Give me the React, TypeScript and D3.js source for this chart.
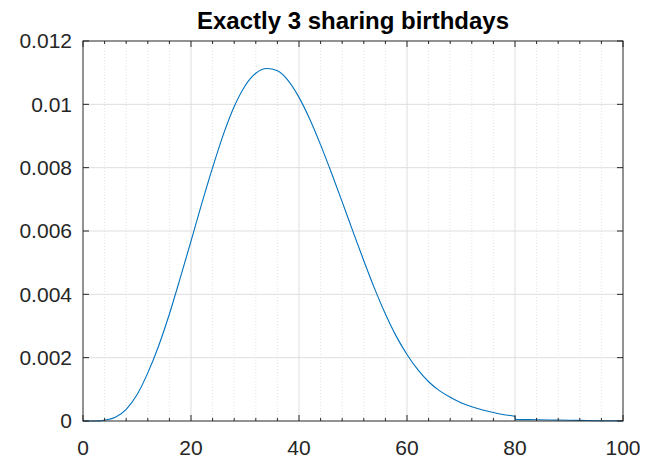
import { useEffect, useRef } from 'react';
import * as d3 from 'd3';

// group size n and probability that exactly 3 people share a birthday
const groupSize = [0, 2, 3, 4, 6, 8, 10, 12, 14, 16, 18, 20, 22, 24, 26, 28, 30, 32, 34, 36, 38, 40, 42, 44, 46, 48, 50, 52, 54, 56, 58, 60, 62, 64, 66, 68, 70, 72, 74, 76, 78, 80, 80.1, 84, 88, 92, 96, 100];
const probability = [0, 0, 0.000003, 0.00003, 0.00012, 0.00037, 0.00083, 0.00152, 0.00237, 0.00338, 0.00451, 0.00568, 0.00687, 0.008, 0.00905, 0.00993, 0.01058, 0.01098, 0.01113, 0.01106, 0.01075, 0.01022, 0.00953, 0.00872, 0.00784, 0.00692, 0.00598, 0.00506, 0.00418, 0.00338, 0.00268, 0.0021, 0.00162, 0.00124, 0.00096, 0.00075, 0.00058, 0.00045, 0.00035, 0.00027, 0.0002, 0.00014, 0.00005, 0.00004, 0.00003, 0.00002, 0.00001, 0.00001];

const xTicks = [0, 20, 40, 60, 80, 100];
const yTicks = [0, 0.002, 0.004, 0.006, 0.008, 0.01, 0.012];
const title = 'Exactly 3 sharing birthdays';

export default function App() {
  const svgRef = useRef<SVGSVGElement>(null);

  useEffect(() => {
    if (!svgRef.current) return;
    const svg = d3.select(svgRef.current);
    svg.selectAll('*').remove();

    const width = 658;
    const height = 459;
    const margin = { left: 83, right: 35, top: 41, bottom: 38 };
    const axisColor = '#262626';
    const font = '"Liberation Sans", Arial, Helvetica, sans-serif';

    const x = d3.scaleLinear().domain([0, 100]).range([margin.left, width - margin.right]);
    const y = d3.scaleLinear().domain([0, 0.012]).range([height - margin.bottom, margin.top]);

    svg.append('rect')
      .attr('width', width)
      .attr('height', height)
      .attr('fill', '#ffffff');

    const x0 = x(0), x1 = x(100), y0 = y(0), y1 = y(0.012);

    // minor grid (x only, dotted)
    const minorX = d3.range(4, 100, 4).filter(v => v % 20 !== 0);
    svg.append('g')
      .selectAll('line')
      .data(minorX)
      .join('line')
      .attr('x1', d => x(d))
      .attr('x2', d => x(d))
      .attr('y1', y0)
      .attr('y2', y1)
      .attr('stroke', '#e3e3e3')
      .attr('stroke-width', 1)
      .attr('stroke-dasharray', '1,2');

    // major grid
    const grid = svg.append('g').attr('stroke', '#dedede').attr('stroke-width', 1);
    grid.selectAll('line.gx')
      .data(xTicks.slice(1, -1))
      .join('line')
      .attr('class', 'gx')
      .attr('x1', d => x(d))
      .attr('x2', d => x(d))
      .attr('y1', y0)
      .attr('y2', y1);
    grid.selectAll('line.gy')
      .data(yTicks.slice(1, -1))
      .join('line')
      .attr('class', 'gy')
      .attr('x1', x0)
      .attr('x2', x1)
      .attr('y1', d => y(d))
      .attr('y2', d => y(d));

    // curve
    const pts = groupSize.map((n, i) => [n, probability[i]] as [number, number]);
    const line = d3.line<[number, number]>()
      .x(d => x(d[0]))
      .y(d => y(d[1]))
      .curve(d3.curveMonotoneX);

    svg.append('path')
      .datum(pts)
      .attr('d', line)
      .attr('fill', 'none')
      .attr('stroke', '#0072BD')
      .attr('stroke-width', 1.1);

    // box
    svg.append('rect')
      .attr('x', x0)
      .attr('y', y1)
      .attr('width', x1 - x0)
      .attr('height', y0 - y1)
      .attr('fill', 'none')
      .attr('stroke', axisColor)
      .attr('stroke-width', 1);

    // ticks (inside, both sides)
    const ticks = svg.append('g').attr('stroke', axisColor).attr('stroke-width', 1);
    xTicks.forEach(t => {
      ticks.append('line').attr('x1', x(t)).attr('x2', x(t)).attr('y1', y0).attr('y2', y0 - 6);
      ticks.append('line').attr('x1', x(t)).attr('x2', x(t)).attr('y1', y1).attr('y2', y1 + 6);
    });
    minorX.forEach(t => {
      ticks.append('line').attr('x1', x(t)).attr('x2', x(t)).attr('y1', y0).attr('y2', y0 - 3);
      ticks.append('line').attr('x1', x(t)).attr('x2', x(t)).attr('y1', y1).attr('y2', y1 + 3);
    });
    yTicks.forEach(t => {
      ticks.append('line').attr('x1', x0).attr('x2', x0 + 6).attr('y1', y(t)).attr('y2', y(t));
      ticks.append('line').attr('x1', x1).attr('x2', x1 - 6).attr('y1', y(t)).attr('y2', y(t));
    });

    // tick labels
    svg.append('g')
      .selectAll('text')
      .data(xTicks)
      .join('text')
      .attr('x', d => x(d))
      .attr('y', y0 + 34)
      .attr('text-anchor', 'middle')
      .style('font-family', font)
      .style('font-size', '21px')
      .style('fill', axisColor)
      .text(d => d3.format('')(d));

    svg.append('g')
      .selectAll('text')
      .data(yTicks)
      .join('text')
      .attr('x', x0 - 11)
      .attr('y', d => y(d))
      .attr('dy', '0.35em')
      .attr('text-anchor', 'end')
      .style('font-family', font)
      .style('font-size', '21px')
      .style('fill', axisColor)
      .text(d => (d === 0 ? '0' : String(+d.toFixed(3))));

    // title
    svg.append('text')
      .attr('x', (x0 + x1) / 2)
      .attr('y', 29)
      .attr('text-anchor', 'middle')
      .style('font-family', font)
      .style('font-size', '24px')
      .style('font-weight', 'bold')
      .style('fill', '#000000')
      .text(title);
  }, []);

  return (
    <svg
      ref={svgRef}
      width={658}
      height={459}
      style={{ position: 'absolute', left: 0, top: 0, display: 'block' }}
    />
  );
}
